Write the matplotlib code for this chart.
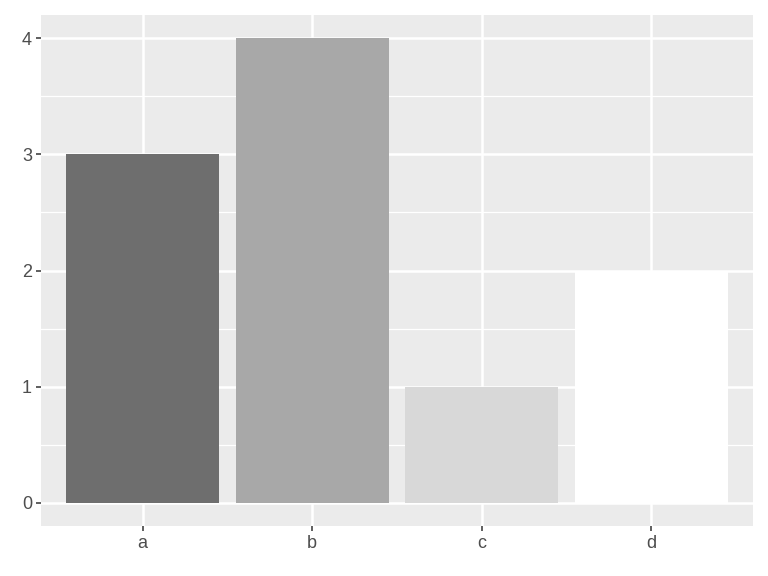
import matplotlib
matplotlib.use("Agg")
import matplotlib.pyplot as plt
import numpy as np

plt.rcParams["font.family"] = ["Liberation Sans", "DejaVu Sans"]

# data
categories = ["a", "b", "c", "d"]
values = [3, 4, 1, 2]
fills = ["#6E6E6E", "#A8A8A8", "#D8D8D8", "#FFFFFF"]

fig = plt.figure(figsize=(7.68, 5.76), dpi=100)
W, H = 768, 576
ax = fig.add_axes([41 / W, (H - 526) / H, (753 - 41) / W, (526 - 15) / H])

ax.set_facecolor("#EBEBEB")
x = np.arange(1, len(categories) + 1)

ax.set_xlim(0.4, 4.6)
ax.set_ylim(-0.2, 4.2)

# grid lines (ggplot style)
for yv in np.arange(0.5, 4.0, 1.0):
    ax.axhline(yv, color="white", lw=0.9, zorder=1)
for yv in range(0, 5):
    ax.axhline(yv, color="white", lw=1.8, zorder=1)
for xv in x:
    ax.axvline(xv, color="white", lw=1.8, zorder=1)

ax.bar(x, values, width=0.9, color=fills, zorder=2)

for s in ax.spines.values():
    s.set_visible(False)

ax.set_xticks(x)
ax.set_xticklabels(categories)
ax.set_yticks(range(0, 5))
ax.tick_params(axis="both", colors="#333333", length=3.5, width=1.1,
               labelsize=13, labelcolor="#4D4D4D", pad=3)

fig.savefig("out.png", dpi=100)
